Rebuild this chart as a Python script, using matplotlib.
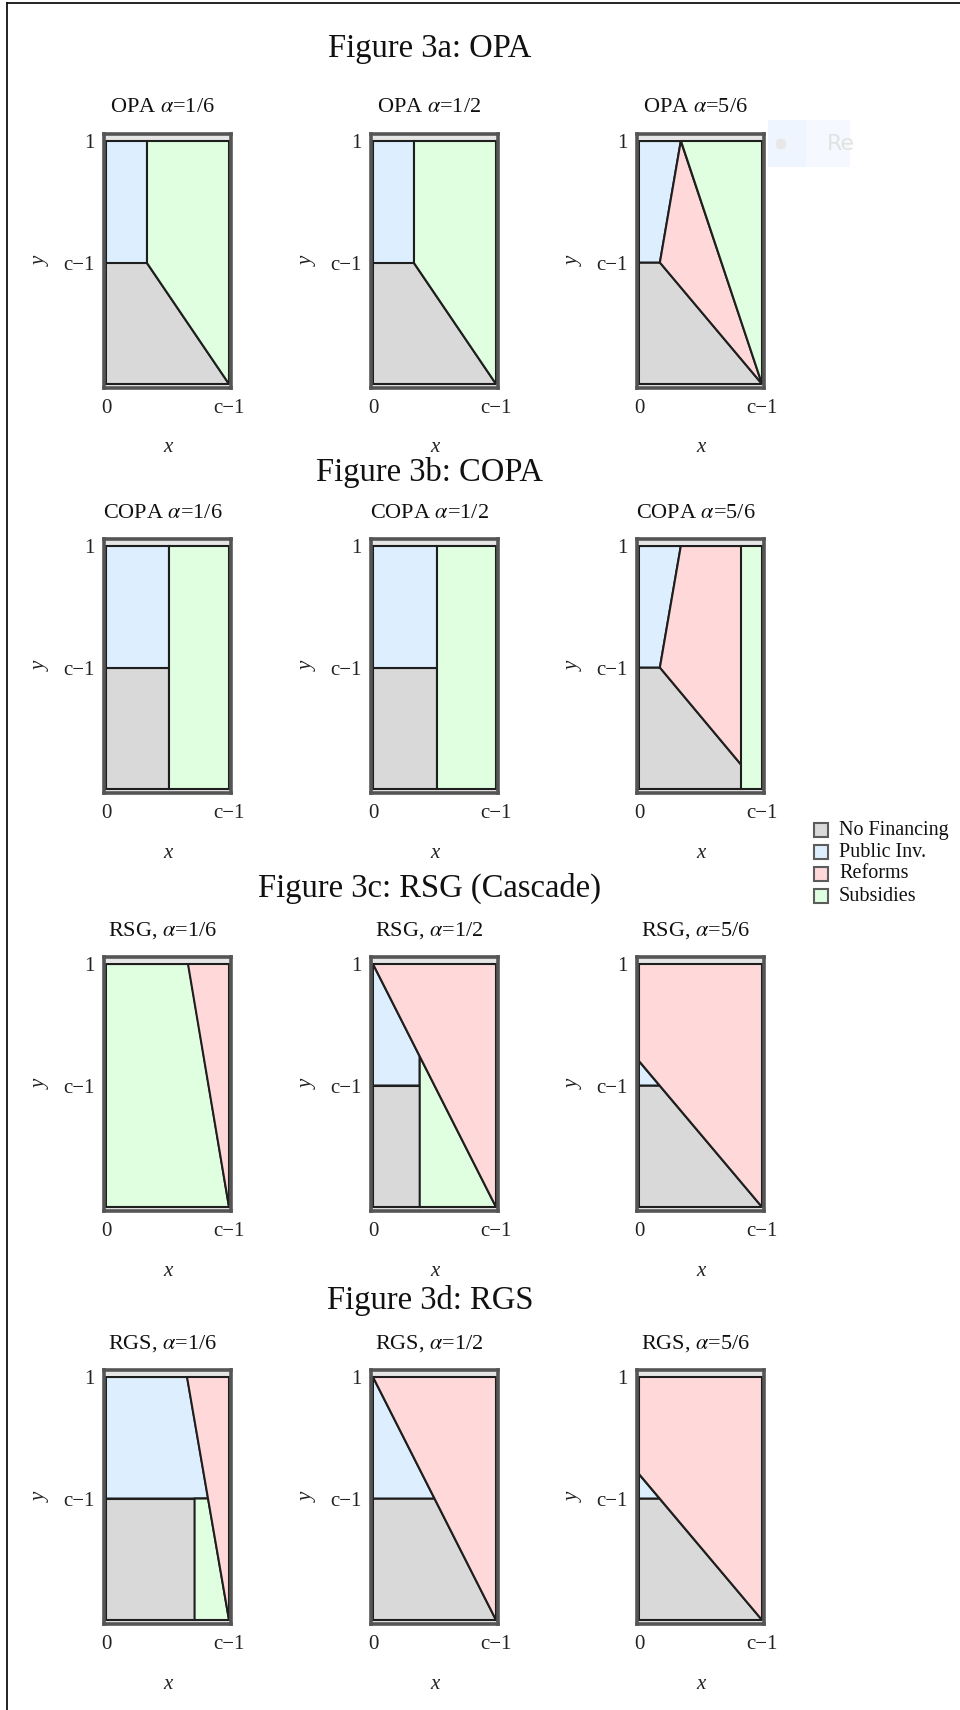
import matplotlib.pyplot as plt
from matplotlib.patches import Polygon, Rectangle, Ellipse
from matplotlib.lines import Line2D

plt.rcParams["font.family"] = ["Liberation Serif", "DejaVu Serif"]
plt.rcParams["mathtext.fontset"] = "stix"

# legend categories and their fills
categories = ["No Financing", "Public Inv.", "Reforms", "Subsidies"]
fills = {"No Financing": "#d9d9d9", "Public Inv.": "#ddeeff",
         "Reforms": "#ffd9d9", "Subsidies": "#e0ffe0"}

figure_titles = ["Figure 3a: OPA", "Figure 3b: COPA",
                 "Figure 3c: RSG (Cascade)", "Figure 3d: RGS"]
panel_names = ["OPA", "COPA", "RSG,", "RGS,"]
alphas = ["1/6", "1/2", "5/6"]

# regions per panel, x in units of c-1, y with c-1 at 0.5
opa = [
    {"No Financing": [(0, 0), (1, 0), (0.33, 0.5), (0, 0.5)],
     "Public Inv.": [(0, 0.5), (0, 1), (0.33, 1), (0.33, 0.5)],
     "Subsidies": [(0.33, 0.5), (0.33, 1), (1, 1), (1, 0)]},
    {"No Financing": [(0, 0), (1, 0), (0.33, 0.5), (0, 0.5)],
     "Public Inv.": [(0, 0.5), (0, 1), (0.33, 1), (0.33, 0.5)],
     "Subsidies": [(0.33, 0.5), (0.33, 1), (1, 1), (1, 0)]},
    {"No Financing": [(0, 0), (1, 0), (0.17, 0.5), (0, 0.5)],
     "Public Inv.": [(0, 0.5), (0, 1), (0.34, 1), (0.17, 0.5)],
     "Reforms": [(0.17, 0.5), (0.34, 1), (1, 0)],
     "Subsidies": [(0.34, 1), (1, 1), (1, 0)]},
]
copa = [
    {"No Financing": [(0, 0), (0.51, 0), (0.51, 0.5), (0, 0.5)],
     "Public Inv.": [(0, 0.5), (0, 1), (0.51, 1), (0.51, 0.5)],
     "Subsidies": [(0.51, 0), (0.51, 1), (1, 1), (1, 0)]},
    {"No Financing": [(0, 0), (0.52, 0), (0.52, 0.5), (0, 0.5)],
     "Public Inv.": [(0, 0.5), (0, 1), (0.52, 1), (0.52, 0.5)],
     "Subsidies": [(0.52, 0), (0.52, 1), (1, 1), (1, 0)]},
    {"No Financing": [(0, 0), (0.83, 0), (0.83, 0.10), (0.17, 0.5), (0, 0.5)],
     "Public Inv.": [(0, 0.5), (0, 1), (0.34, 1), (0.17, 0.5)],
     "Reforms": [(0.17, 0.5), (0.34, 1), (0.83, 1), (0.83, 0.10)],
     "Subsidies": [(0.83, 0), (0.83, 1), (1, 1), (1, 0)]},
]
rsg = [
    {"Subsidies": [(0, 0), (1, 0), (0.67, 1), (0, 1)],
     "Reforms": [(0.67, 1), (1, 1), (1, 0)]},
    {"No Financing": [(0, 0), (0.38, 0), (0.38, 0.5), (0, 0.5)],
     "Public Inv.": [(0, 0.5), (0, 1), (0.38, 0.62), (0.38, 0.5)],
     "Subsidies": [(0.38, 0), (1, 0), (0.38, 0.62)],
     "Reforms": [(0, 1), (1, 1), (1, 0)]},
    {"No Financing": [(0, 0), (1, 0), (0.167, 0.5), (0, 0.5)],
     "Public Inv.": [(0, 0.5), (0, 0.6), (0.167, 0.5)],
     "Reforms": [(0, 0.6), (0, 1), (1, 1), (1, 0)]},
]
rgs = [
    {"No Financing": [(0, 0), (0.72, 0), (0.72, 0.5), (0, 0.5)],
     "Public Inv.": [(0, 0.5), (0, 1), (0.66, 1), (0.83, 0.5)],
     "Subsidies": [(0.72, 0), (1, 0), (0.83, 0.5), (0.72, 0.5)],
     "Reforms": [(0.66, 1), (1, 1), (1, 0)]},
    {"No Financing": [(0, 0), (1, 0), (0.5, 0.5), (0, 0.5)],
     "Public Inv.": [(0, 0.5), (0, 1), (0.5, 0.5)],
     "Reforms": [(0, 1), (1, 1), (1, 0)]},
    {"No Financing": [(0, 0), (1, 0), (0.167, 0.5), (0, 0.5)],
     "Public Inv.": [(0, 0.5), (0, 0.6), (0.167, 0.5)],
     "Reforms": [(0, 0.6), (0, 1), (1, 1), (1, 0)]},
]
rows = [opa, copa, rsg, rgs]

W, H = 960, 1710
fig = plt.figure(figsize=(W / 100, H / 100), dpi=100)

col_left = [104, 371, 637]
row_top = [134, 539, 957, 1370]
title_y = [49, 472, 888, 1300]
aw, ah = 127, 254
ylo, yhi = -0.0165, 1.029


def px(x, y):
    return x / W, 1 - y / H


for r, panels in enumerate(rows):
    fig.text(*px(430, title_y[r]), figure_titles[r], fontsize=23.5,
             ha="center", va="center", color="#111111")
    for c, regions in enumerate(panels):
        l, b = px(col_left[c], row_top[r] + ah)
        ax = fig.add_axes([l, b, aw / W, ah / H])
        ax.set_xlim(-0.016, 1.016)
        ax.set_ylim(ylo, yhi)
        ax.axhspan(1, yhi, color="#e6e6e6", zorder=0)
        ax.axhspan(ylo, 0, color="#e6e6e6", zorder=0)
        for name, verts in regions.items():
            ax.add_patch(Polygon(verts, closed=True, facecolor=fills[name],
                                 edgecolor="#1e1e1e", linewidth=1.5,
                                 joinstyle="miter", zorder=1))
        for s in ax.spines.values():
            s.set_color("#555555")
            s.set_linewidth(2.6)
        ax.set_xticks([0, 1], ["0", "c\u22121"])
        ax.set_yticks([0.5, 1], ["c\u22121", "1"])
        ax.tick_params(length=0, labelsize=15, colors="#222222")
        ax.tick_params(axis="x", pad=8)
        ax.tick_params(axis="y", pad=7)
        ax.text(0.5 - 5 / aw, 1 + 26 / ah,
                f"{panel_names[r]} $\\alpha$={alphas[c]}",
                transform=ax.transAxes, ha="center", va="center",
                fontsize=16, color="#111111")
        ax.text(0.5, -60 / ah, "x", style="italic", transform=ax.transAxes,
                ha="center", va="center", fontsize=15, color="#222222")
        ax.text(-63 / aw, 0.5, "y", style="italic", rotation=90,
                transform=ax.transAxes, ha="center", va="center",
                fontsize=15, color="#222222")

# legend
for i, name in enumerate(categories):
    cy = 830 + 22 * i
    x0, y0 = px(814, cy + 7)
    fig.patches.append(Rectangle((x0, y0), 14 / W, 14 / H,
                                 transform=fig.transFigure,
                                 facecolor=fills[name], edgecolor="#5c5c5c",
                                 linewidth=1.5))
    fig.text(*px(839, cy), name, fontsize=14.5, ha="left", va="center",
             color="#111111")

# faint overlay left in the capture
fig.patches.append(Rectangle(px(768, 167), 38 / W, 47 / H,
                             transform=fig.transFigure,
                             facecolor="#eef5ff", edgecolor="none", zorder=-1))
fig.patches.append(Rectangle(px(806, 167), 44 / W, 47 / H,
                             transform=fig.transFigure,
                             facecolor="#f5f9ff", edgecolor="none", zorder=-1))
fig.patches.append(Ellipse(px(781, 144), 11 / W, 11 / H,
                           transform=fig.transFigure,
                           facecolor="#e8e8e8", edgecolor="none", zorder=-1))
fig.text(*px(827, 144), "Re", fontsize=16, family="DejaVu Sans",
         ha="left", va="center", color="#e2e2e2")

# page border (top and left)
fig.add_artist(Line2D([7 / W, 1], [1 - 3 / H, 1 - 3 / H],
                      transform=fig.transFigure, color="#111111", lw=1.3))
fig.add_artist(Line2D([7 / W, 7 / W], [0, 1 - 3 / H],
                      transform=fig.transFigure, color="#111111", lw=1.3))

fig.savefig("out.png", dpi=100)
